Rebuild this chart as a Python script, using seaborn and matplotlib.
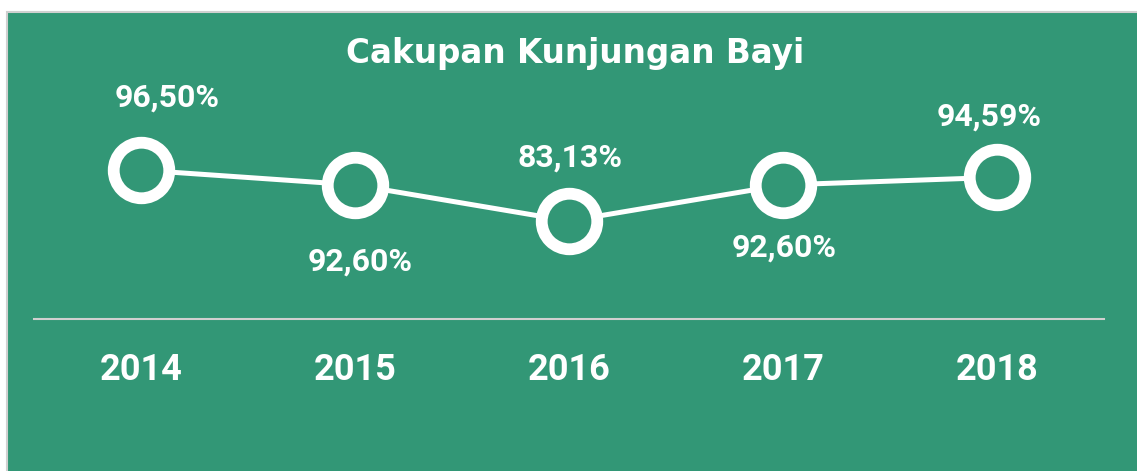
import matplotlib
matplotlib.use("Agg")
import matplotlib.pyplot as plt
import seaborn as sns
import pandas as pd
from matplotlib.patches import Rectangle

# ---- data ----
years = ["2014", "2015", "2016", "2017", "2018"]
coverage = [96.50, 92.60, 83.13, 92.60, 94.59]
value_labels = ["96,50%", "92,60%", "83,13%", "92,60%", "94,59%"]
title = "Cakupan Kunjungan Bayi"

# ---- style ----
GREEN = "#329776"
BORDER = "#d0d0d0"
label_offsets = [(19, 52), (4, -55), (1, 46), (1, -45), (-6, 44)]  # points

sns.set_theme(style="white")
plt.rcParams["font.family"] = ["DejaVu Sans"]

W, H = 1137, 471
fig = plt.figure(figsize=(W / 100, H / 100), dpi=100)
fig.patch.set_facecolor("white")

# green panel with light border on top/left
panel = Rectangle((7 / W, -0.01), 1.0, 1.01 - 12 / H, transform=fig.transFigure,
                  facecolor=GREEN, edgecolor=BORDER, linewidth=1.5, zorder=-10)
fig.add_artist(panel)

ax = fig.add_axes([34 / W, 1 - 319 / H, (1104 - 34) / W, (319 - 60) / H])
ax.set_facecolor("none")
ax.patch.set_visible(False)

df = pd.DataFrame({"x": range(len(years)), "y": coverage})
sns.lineplot(data=df, x="x", y="y", ax=ax, color="white", linewidth=3.6,
             marker="o", markersize=40, markeredgewidth=8.5,
             markerfacecolor=GREEN, markeredgecolor="white", clip_on=False)

ax.set_xlim(-0.5, len(years) - 0.5)
ax.set_ylim(57.4, 125.4)

for i, (v, lab) in enumerate(zip(coverage, value_labels)):
    ax.annotate(lab, (i, v), xytext=label_offsets[i], textcoords="offset points",
                ha="center", va="center", color="white", fontsize=23,
                fontweight="bold", fontfamily=["Roboto", "DejaVu Sans"])

ax.set_xticks(range(len(years)))
ax.set_xticklabels(years, fontsize=26, fontweight="bold", color="white",
                   fontfamily=["Roboto", "DejaVu Sans"])
ax.tick_params(axis="x", length=0, pad=24)
ax.set_yticks([])
ax.set_xlabel("")
ax.set_ylabel("")
for s in ["top", "right", "left"]:
    ax.spines[s].set_visible(False)
ax.spines["bottom"].set_color(BORDER)
ax.spines["bottom"].set_linewidth(1.5)

fig.text(575 / W, 1 - 54 / H, title, ha="center", va="center", color="white",
         fontsize=23.5, fontweight="bold")

fig.savefig("out.png", dpi=100, facecolor=fig.get_facecolor())
